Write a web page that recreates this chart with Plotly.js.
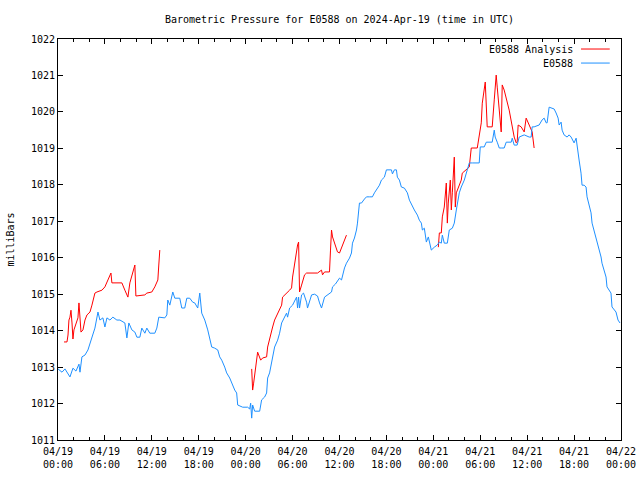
<!DOCTYPE html>
<html>
<head>
<meta charset="utf-8">
<script src="https://cdn.plot.ly/plotly-3.0.1.min.js"></script>
<style>html,body{margin:0;padding:0;background:#fff;}#chart{width:640px;height:480px;}</style>
</head>
<body>
<div id="chart"></div>
<script>
// Hours since 2024-04-19 00:00 UTC
const blueHours = [0.00,0.51,0.89,1.28,1.53,1.91,2.30,2.68,2.81,3.06,3.45,3.83,4.21,4.47,4.72,5.11,5.36,5.74,6.00,6.26,6.64,7.02,7.53,7.92,8.55,8.81,9.06,9.45,9.83,10.09,10.47,10.72,11.11,11.36,11.74,12.38,12.64,12.89,13.28,13.66,13.92,14.04,14.30,14.68,14.94,15.57,15.83,16.21,16.47,16.85,17.23,17.49,17.87,18.13,18.38,18.77,19.15,19.40,19.66,20.04,20.43,20.68,20.94,21.32,21.57,21.96,22.21,22.60,22.85,22.98,23.62,24.26,24.51,24.64,24.77,24.89,25.15,25.53,25.79,26.04,26.43,26.68,26.81,27.06,27.45,27.70,28.09,28.34,28.60,28.98,29.23,29.36,29.62,30.00,30.26,30.51,30.64,30.77,30.89,31.15,31.40,31.79,31.91,32.17,32.43,32.81,33.19,33.45,33.70,34.09,34.47,34.98,35.11,35.49,36.00,36.26,36.64,36.89,37.28,37.53,37.66,37.91,38.17,38.30,38.55,38.81,39.19,39.45,39.83,40.21,40.47,40.85,41.11,41.36,41.74,42.00,42.38,42.64,42.77,43.02,43.28,43.40,43.66,43.91,44.30,44.68,44.94,45.32,45.57,45.96,46.21,46.47,46.60,46.85,47.11,47.36,47.74,48.13,48.51,48.77,49.02,49.15,49.40,49.79,50.04,50.43,50.68,50.94,51.32,51.57,51.96,52.34,52.60,52.98,53.36,53.87,54.00,54.51,54.77,55.15,55.53,55.79,55.91,56.17,56.43,56.68,57.06,57.32,57.70,57.96,58.09,58.34,58.72,58.98,59.62,60.26,60.51,60.64,60.89,61.53,61.91,62.17,62.43,62.55,62.81,63.19,63.45,63.70,63.96,64.09,64.34,64.47,64.72,65.11,65.36,65.62,66.00,66.26,66.38,66.64,66.89,67.02,67.28,67.53,67.66,67.91,68.17,68.30,68.55,68.81,68.94,69.19,69.45,69.57,69.83,70.09,70.21,70.47,70.72,70.85,71.11,71.36,71.62,71.87];
const blueValues = [1012.95,1012.86,1012.95,1012.81,1012.73,1012.97,1012.89,1013.08,1012.86,1013.28,1013.33,1013.47,1013.71,1013.88,1014.07,1014.51,1014.29,1014.35,1014.10,1014.35,1014.29,1014.37,1014.29,1014.29,1014.21,1013.80,1014.21,1014.02,1013.96,1013.82,1013.82,1014.07,1013.93,1014.07,1013.93,1013.93,1014.07,1014.37,1014.35,1014.35,1014.43,1014.84,1014.70,1015.06,1014.89,1014.89,1014.62,1014.62,1014.89,1014.89,1014.78,1014.76,1014.62,1015.03,1014.48,1014.29,1014.02,1013.74,1013.55,1013.52,1013.47,1013.28,1013.19,1013.00,1012.84,1012.70,1012.56,1012.37,1012.29,1011.96,1011.90,1011.90,1011.85,1012.01,1011.60,1011.96,1011.79,1011.79,1011.79,1012.10,1012.18,1012.29,1012.70,1012.84,1013.28,1013.55,1013.74,1013.93,1014.21,1014.35,1014.48,1014.37,1014.62,1014.70,1014.84,1014.92,1014.62,1014.92,1014.62,1014.98,1015.03,1014.78,1014.62,1014.84,1014.98,1015.00,1014.95,1014.76,1014.62,1014.92,1014.98,1015.06,1015.20,1015.28,1015.44,1015.39,1015.72,1015.85,1015.99,1016.13,1016.40,1016.54,1016.76,1016.95,1017.50,1017.50,1017.61,1017.67,1017.67,1017.67,1017.78,1017.91,1017.99,1018.13,1018.21,1018.41,1018.41,1018.41,1018.30,1018.41,1018.41,1018.21,1018.13,1017.94,1017.91,1017.78,1017.58,1017.39,1017.31,1017.17,1017.03,1016.95,1016.76,1016.81,1016.43,1016.57,1016.21,1016.29,1016.35,1016.43,1016.40,1016.62,1016.40,1016.40,1016.76,1016.81,1016.95,1017.31,1017.78,1017.94,1018.13,1018.41,1018.60,1018.60,1018.60,1018.60,1019.04,1019.04,1019.17,1019.17,1019.17,1019.50,1019.31,1019.17,1019.01,1019.01,1019.01,1019.17,1019.17,1019.17,1019.28,1019.09,1019.09,1019.31,1019.37,1019.31,1019.31,1019.59,1019.59,1019.64,1019.78,1019.83,1019.70,1019.70,1020.13,1020.11,1020.08,1019.97,1019.83,1019.64,1019.72,1019.50,1019.37,1019.31,1019.37,1019.31,1019.15,1019.28,1019.04,1018.68,1018.32,1017.99,1017.99,1017.94,1017.67,1017.45,1017.23,1016.95,1016.76,1016.57,1016.40,1016.21,1016.02,1015.85,1015.66,1015.47,1015.20,1015.11,1015.03,1014.65,1014.56,1014.51,1014.29,1014.21];

// Analysis series (null = gap between analysis runs)
const redHours = [0.77,1.15,1.28,1.40,1.53,1.66,1.79,1.91,2.04,2.30,2.55,2.68,2.81,2.94,3.19,3.45,3.70,4.09,4.34,4.72,4.98,5.62,6.00,6.26,6.77,6.89,8.17,8.55,8.94,9.19,9.57,9.83,9.96,11.11,11.36,12.00,12.38,12.77,12.89,13.02,
  18.0,
  24.77,24.89,25.02,25.28,25.40,25.53,25.92,26.17,26.68,26.81,27.45,27.70,28.60,28.72,29.62,29.87,30.00,30.26,30.51,30.64,30.77,30.89,31.15,31.53,31.79,33.19,33.70,33.83,34.09,34.72,34.85,34.98,35.11,35.74,36.00,36.89,
  42.0,
  48.64,48.77,49.02,49.15,49.40,49.66,49.79,49.91,50.17,50.30,50.43,50.68,50.81,50.94,51.57,51.70,52.60,52.85,53.62,53.87,54.13,54.26,54.51,54.64,54.89,55.53,55.79,56.04,56.17,56.43,56.68,56.81,57.06,57.70,57.96,58.34,58.60,58.72,58.85,59.23,59.62,59.87,60.26,60.64,60.89];
const redValues = [1013.69,1013.69,1013.88,1014.29,1014.37,1014.56,1014.21,1013.77,1014.02,1014.21,1014.35,1014.76,1014.37,1013.96,1014.02,1014.29,1014.43,1014.51,1014.70,1015.03,1015.06,1015.11,1015.20,1015.33,1015.58,1015.31,1015.31,1015.11,1014.92,1015.31,1015.61,1015.80,1014.95,1014.98,1015.03,1015.06,1015.20,1015.39,1015.80,1016.21,
  null,
  1012.95,1012.37,1012.56,1013.00,1013.19,1013.41,1013.19,1013.25,1013.28,1013.55,1014.10,1014.29,1014.70,1014.92,1015.11,1015.17,1015.47,1015.85,1016.13,1016.35,1016.43,1015.06,1015.25,1015.53,1015.58,1015.58,1015.66,1015.53,1015.61,1015.61,1016.21,1016.76,1016.57,1016.16,1016.13,1016.62,
  null,
  1016.29,1016.68,1016.68,1017.12,1017.39,1018.05,1016.95,1017.50,1018.13,1017.31,1017.78,1018.76,1017.39,1017.78,1018.13,1018.32,1018.49,1019.01,1019.01,1019.31,1019.70,1020.24,1020.68,1020.82,1019.59,1019.59,1020.33,1021.01,1020.68,1020.05,1019.45,1020.74,1020.60,1020.05,1019.78,1019.31,1019.15,1019.17,1019.64,1019.59,1019.45,1019.83,1019.64,1019.45,1019.01];

const tickHours = [0,6,12,18,24,30,36,42,48,54,60,66,72];
const tickLabels = ['04/19<br>00:00','04/19<br>06:00','04/19<br>12:00','04/19<br>18:00','04/20<br>00:00','04/20<br>06:00','04/20<br>12:00','04/20<br>18:00','04/21<br>00:00','04/21<br>06:00','04/21<br>12:00','04/21<br>18:00','04/22<br>00:00'];
const seriesNames = ['E0588 Analysis','E0588'];
const seriesColors = ['#ff0000','#1e90ff'];

const mono = {family:'"DejaVu Sans Mono", monospace', size:10, color:'#000'};

const traces = [
  {x: redHours, y: redValues, type:'scatter', mode:'lines', name: seriesNames[0],
   line:{color: seriesColors[0], width:1}, connectgaps:false, hoverinfo:'skip'},
  {x: blueHours, y: blueValues, type:'scatter', mode:'lines', name: seriesNames[1],
   line:{color: seriesColors[1], width:1}, hoverinfo:'skip'}
];

const legendY = [0.975, 0.940];
const annotations = seriesNames.map((n,i)=>({
  xref:'paper', yref:'paper', x:0.918, y:legendY[i], xanchor:'right', yanchor:'middle',
  text:n, showarrow:false, font:mono
}));
const shapes = seriesColors.map((c,i)=>({
  type:'line', xref:'paper', yref:'paper', x0:0.929, x1:0.980, y0:legendY[i], y1:legendY[i],
  line:{color:c, width:1}
}));

const layout = {
  width:640, height:480,
  margin:{l:58, r:19, t:39, b:40},
  paper_bgcolor:'#fff', plot_bgcolor:'#fff',
  showlegend:false,
  font: mono,
  title:{text:'Barometric Pressure for E0588 on 2024-Apr-19 (time in UTC)', font:mono,
         x:0.5, xref:'paper', xanchor:'center', y:1-19/480, yanchor:'middle'},
  xaxis:{
    range:[0,72], tickmode:'array', tickvals:tickHours, ticktext:tickLabels,
    ticks:'inside', ticklen:5, tickcolor:'#000', tickwidth:1,
    showline:true, linecolor:'#000', linewidth:1, mirror:'ticks',
    showgrid:false, zeroline:false, tickfont:mono, ticklabelstandoff:2,
    minor:{tickmode:'linear', tick0:0, dtick:2, ticks:'inside', ticklen:3, tickcolor:'#000', tickwidth:1, showgrid:false}
  },
  yaxis:{
    range:[1011,1022], dtick:1, tick0:1011,
    ticks:'inside', ticklen:5, tickcolor:'#000', tickwidth:1,
    showline:true, linecolor:'#000', linewidth:1, mirror:'ticks',
    showgrid:false, zeroline:false, tickfont:mono, tickformat:'d',
    title:{text:'milliBars', font:mono, standoff:14}
  },
  annotations: annotations,
  shapes: shapes
};

Plotly.newPlot('chart', traces, layout, {staticPlot:true, displayModeBar:false});
</script>
</body>
</html>
